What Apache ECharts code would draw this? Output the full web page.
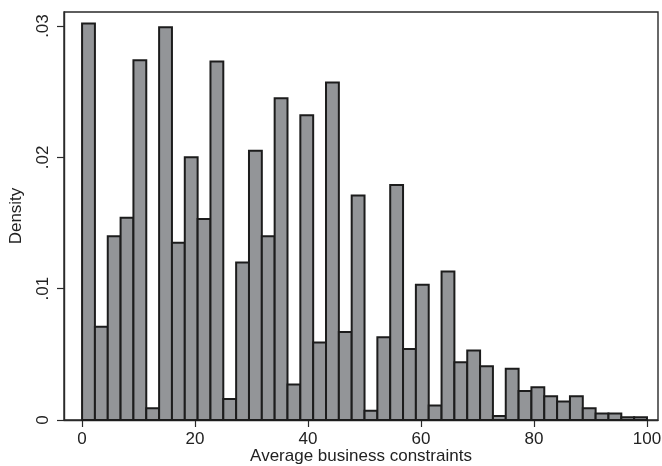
<!DOCTYPE html>
<html>
<head>
<meta charset="utf-8">
<script src="https://cdn.jsdelivr.net/npm/echarts@6/dist/echarts.min.js"></script>
<style>
  html, body { margin: 0; padding: 0; background: #fff; }
  #chart { width: 662px; height: 466px; }
</style>
</head>
<body>
<div id="chart"></div>
<script>
// Histogram: 44 equal bins over [0, 100]
const binStart = 0;
const binCount = 44;
const binWidth = 100 / binCount;
const density = [
  0.0302, 0.0071, 0.0140, 0.0154, 0.0274, 0.0009, 0.0299, 0.0135, 0.0200, 0.0153,
  0.0273, 0.0016, 0.0120, 0.0205, 0.0140, 0.0245, 0.0027, 0.0232, 0.0059, 0.0257,
  0.0067, 0.0171, 0.0007, 0.0063, 0.0179, 0.0054, 0.0103, 0.0011, 0.0113, 0.0044,
  0.0053, 0.0041, 0.0003, 0.0039, 0.0022, 0.0025, 0.0018, 0.0014, 0.0018, 0.0009,
  0.0005, 0.0005, 0.0002, 0.0002
];
const xTicks = [0, 20, 40, 60, 80, 100];
const yTicks = [0, 0.01, 0.02, 0.03];
const xTitle = 'Average business constraints';
const yTitle = 'Density';

const fontFamily = "'Liberation Sans', Arial, Helvetica, sans-serif";
const seriesData = density.map((v, i) => [binStart + i * binWidth, binStart + (i + 1) * binWidth, v]);

const chart = echarts.init(document.getElementById('chart'), null, { renderer: 'canvas' });
chart.setOption({
  animation: false,
  backgroundColor: '#ffffff',
  grid: {
    left: 64, right: 4, top: 12, bottom: 46,
    outerBoundsMode: 'none',
    containLabel: false,
    show: true, borderColor: '#2a2a2a', borderWidth: 1.4, backgroundColor: 'transparent'
  },
  xAxis: {
    type: 'value',
    min: -3.2, max: 101.95,
    name: xTitle,
    nameLocation: 'middle',
    nameGap: 28,
    nameMoveOverlap: false,
    nameTextStyle: { fontSize: 17, color: '#222', fontFamily },
    axisLine: { show: true, onZero: false, lineStyle: { color: '#2a2a2a', width: 1.4 } },
    axisTick: { show: true, length: 7, customValues: xTicks, lineStyle: { color: '#2a2a2a', width: 1.2 } },
    axisLabel: { customValues: xTicks, fontSize: 17, color: '#222', margin: 11, fontFamily },
    splitLine: { show: false }
  },
  yAxis: {
    type: 'value',
    min: 0, max: 0.03107,
    name: yTitle,
    nameLocation: 'middle',
    nameGap: 39,
    nameMoveOverlap: false,
    nameTextStyle: { fontSize: 17, color: '#222', fontFamily },
    axisLine: { show: true, onZero: false, lineStyle: { color: '#2a2a2a', width: 1.4 } },
    axisTick: { show: true, length: 7, customValues: yTicks, lineStyle: { color: '#2a2a2a', width: 1.2 } },
    axisLabel: {
      customValues: yTicks, rotate: 90, fontSize: 17, color: '#222', margin: 12, fontFamily,
      formatter: v => (v === 0 ? '0' : v.toFixed(2).replace(/^0/, ''))
    },
    splitLine: { show: false }
  },
  series: [{
    type: 'custom',
    data: seriesData,
    encode: { x: [0, 1], y: 2 },
    renderItem: function (params, api) {
      const p0 = api.coord([api.value(0), api.value(2)]);
      const p1 = api.coord([api.value(1), 0]);
      return {
        type: 'rect',
        shape: { x: p0[0], y: p0[1], width: p1[0] - p0[0], height: p1[1] - p0[1] },
        style: { fill: '#939598', stroke: '#1c1c1c', lineWidth: 2 }
      };
    }
  }]
});
</script>
</body>
</html>
